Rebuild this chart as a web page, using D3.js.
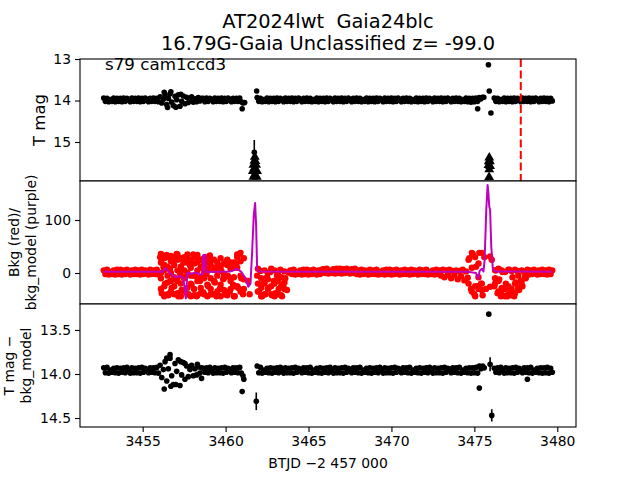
<!DOCTYPE html>
<html>
<head>
<meta charset="utf-8">
<script src="https://cdn.jsdelivr.net/npm/d3@7"></script>
<style>
body { margin: 0; background: #fff; }
svg { font-family: "DejaVu Sans", sans-serif; }
</style>
</head>
<body>
<svg id="chart" width="640" height="480"></svg>
<script>
// ---- data ----
const titleLines = ["AT2024lwt  Gaia24blc", "16.79G-Gaia Unclassified z= -99.0"];
const sectorLabel = "s79 cam1ccd3";
const xTicks = [3455, 3460, 3465, 3470, 3475, 3480];
const y1Ticks = [13, 14, 15];
const y2Ticks = [0, 100];
const y3Ticks = [13.5, 14.0, 14.5];
const refEpoch = 3477.8; // red dashed marker

// BTJD of each cadence
const btjd = [
  3452.65,3452.75,3452.85,3452.95,3453.05,3453.15,3453.25,3453.35,3453.45,3453.55,
  3453.65,3453.75,3453.85,3453.95,3454.05,3454.15,3454.25,3454.35,3454.45,3454.55,
  3454.65,3454.75,3454.85,3454.95,3455.05,3455.15,3455.25,3455.35,3455.45,3455.55,
  3455.65,3455.75,3455.85,3455.95,3456.05,3456.15,3456.25,3456.35,3456.45,3456.55,
  3456.65,3456.75,3456.85,3456.95,3457.05,3457.15,3457.25,3457.35,3457.45,3457.55,
  3457.65,3457.75,3457.85,3457.95,3458.05,3458.15,3458.25,3458.35,3458.45,3458.55,
  3458.65,3458.75,3458.85,3458.95,3459.05,3459.15,3459.25,3459.35,3459.45,3459.55,
  3459.65,3459.75,3459.85,3459.95,3460.05,3460.15,3460.25,3460.35,3460.45,3460.55,
  3460.65,3460.75,3460.85,3460.95,3461.05,
  3461.9,3462.0,3462.1,3462.2,3462.3,3462.4,3462.5,3462.6,3462.7,3462.8,
  3462.9,3463.0,3463.1,3463.2,3463.3,3463.4,3463.5,3463.6,3463.7,3463.8,
  3463.9,3464.0,3464.1,3464.2,3464.3,3464.4,3464.5,3464.6,3464.7,3464.8,
  3464.9,3465.0,3465.1,3465.2,3465.3,3465.4,3465.5,3465.6,3465.7,3465.8,
  3465.9,3466.0,3466.1,3466.2,3466.3,3466.4,3466.5,3466.6,3466.7,3466.8,
  3466.9,3467.0,3467.1,3467.2,3467.3,3467.4,3467.5,3467.6,3467.7,3467.8,
  3467.9,3468.0,3468.1,3468.2,3468.3,3468.4,3468.5,3468.6,3468.7,3468.8,
  3468.9,3469.0,3469.1,3469.2,3469.3,3469.4,3469.5,3469.6,3469.7,3469.8,
  3469.9,3470.0,3470.1,3470.2,3470.3,3470.4,3470.5,3470.6,3470.7,3470.8,
  3470.9,3471.0,3471.1,3471.2,3471.3,3471.4,3471.5,3471.6,3471.7,3471.8,
  3471.9,3472.0,3472.1,3472.2,3472.3,3472.4,3472.5,3472.6,3472.7,3472.8,
  3472.9,3473.0,3473.1,3473.2,3473.3,3473.4,3473.5,3473.6,3473.7,3473.8,
  3473.9,3474.0,3474.1,3474.2,3474.3,3474.4,3474.5,3474.6,3474.7,3474.8,
  3474.9,3475.0,3475.1,3475.2,3475.3,3475.4,3475.5,
  3476.2,3476.3,3476.4,3476.5,3476.6,3476.7,3476.8,3476.9,3477.0,3477.1,
  3477.2,3477.3,3477.4,3477.5,3477.6,3477.7,3477.8,3477.9,3478.0,3478.1,
  3478.2,3478.3,3478.4,3478.5,3478.6,3478.7,3478.8,3478.9,3479.0,3479.1,
  3479.2,3479.3,3479.4,3479.5,3479.6,3479.7
];

// T mag
const tmag = [
  13.94,14.02,13.95,14.03,13.98,14.02,13.94,14.03,13.95,14.02,
  13.95,14.03,13.94,14.02,13.95,13.98,14.03,13.94,14.02,13.95,
  14.02,13.94,14.03,13.95,14.02,13.94,13.98,14.03,13.95,14.02,
  13.94,14.02,13.95,14.03,13.91,14.06,13.97,13.87,14.10,13.95,
  13.84,14.04,14.12,13.90,13.98,13.86,14.14,14.02,13.89,14.08,
  13.92,14.05,13.97,13.91,14.04,13.96,14.03,13.93,14.01,13.95,
  13.95,14.03,13.94,14.02,13.95,13.98,14.03,13.94,14.02,13.95,
  14.02,13.94,14.03,13.95,14.02,13.94,13.98,14.03,13.95,14.02,
  13.95,14.02,13.94,14.03,14.06,
  13.93,14.02,13.95,14.03,13.98,14.02,13.94,14.03,13.95,14.02,
  13.95,14.03,13.94,14.02,13.95,13.98,14.03,13.94,14.02,13.95,
  14.02,13.94,14.03,13.95,14.02,13.94,13.98,14.03,13.95,14.02,
  13.94,14.02,13.95,14.03,13.98,14.02,13.94,14.03,13.95,14.02,
  13.95,14.03,13.94,14.02,13.95,13.98,14.03,13.94,14.02,13.95,
  14.02,13.94,14.03,13.95,14.02,13.94,13.98,14.03,13.95,14.02,
  13.94,14.02,13.95,14.03,13.98,14.02,13.94,14.03,13.95,14.02,
  13.95,14.03,13.94,14.02,13.95,13.98,14.03,13.94,14.02,13.95,
  14.02,13.94,14.03,13.95,14.02,13.94,13.98,14.03,13.95,14.02,
  13.94,14.02,13.95,14.03,13.98,14.02,13.94,14.03,13.95,14.02,
  13.95,14.03,13.94,14.02,13.95,13.98,14.03,13.94,14.02,13.95,
  14.02,13.94,14.03,13.95,14.02,13.94,13.98,14.03,13.95,14.02,
  13.94,14.02,13.95,14.03,13.98,14.02,13.94,14.03,13.95,14.04,
  13.95,14.03,13.94,14.02,13.93,13.96,13.92,
  13.94,14.02,13.95,14.03,13.98,14.02,13.94,14.03,13.95,14.02,
  13.95,14.03,13.94,14.02,13.95,13.98,14.03,13.94,14.02,13.95,
  14.02,13.94,14.03,13.95,14.02,13.94,13.98,14.03,13.95,14.02,
  13.94,14.02,13.95,14.03,13.95,14.01
];
const tmagOutT = [3456.3,3456.5,3456.7,3457.0,3457.3,3461.0,3461.15,3461.87,3475.2,3475.57,3475.85,3475.9,3476.0];
const tmagOutV = [13.80,14.17,13.79,14.16,13.85,14.20,14.05,13.77,14.20,13.92,13.14,13.77,14.30];
// faint epochs (upper limits)
const limT = [3461.76,3461.74,3461.8,3461.68,3461.84,3461.74,3461.64,3461.9,3461.77,3461.68,3461.88,
              3475.9,3475.87,3475.94,3475.85,3475.95,3475.9,3475.89];
const limV = [15.36,15.45,15.46,15.55,15.55,15.63,15.7,15.7,15.78,15.84,15.84,
              15.38,15.47,15.47,15.56,15.58,15.66,15.85];
const errT = [3461.73];
const errV = [15.25];
const errE = [0.3];

// background flux (red)
const bkg = [
  5,-2,6,-3,2,-2,5,-3,6,-2,
  6,-3,5,-2,6,2,-3,5,-2,6,
  -2,5,-3,6,-2,5,2,-3,6,-2,
  5,-2,6,-3,30,-38,12,-20,34,-42,
  8,-28,25,-12,36,-44,0,-32,20,-8,
  30,-40,15,-22,35,-5,-44,24,-15,10,
  -36,28,-2,-25,33,-40,6,-18,-44,15,
  -30,4,-12,-40,22,-6,-35,10,-22,-44,
  18,-28,35,-10,-40,
  -5,-35,4,-44,-18,-40,-8,-28,2,-42,
  -15,-38,-5,-30,6,-44,-20,-10,-32,1,
  5,-2,6,-3,2,-2,5,-3,6,-2,
  6,-3,5,-2,6,2,-3,5,-2,6,
  7,0,8,-1,4,0,7,-1,8,0,
  8,-1,7,0,8,4,-1,7,0,8,
  -2,5,-3,6,-2,5,2,-3,6,-2,
  5,-2,6,-3,2,-2,5,-3,6,-2,
  6,-3,5,-2,6,2,-3,5,-2,6,
  -2,5,-3,6,-2,5,2,-3,6,-2,
  5,-2,6,-3,2,-2,5,-3,6,-2,
  5,-5,6,-8,5,-3,6,-10,4,-4,
  5,-12,4,-6,6,-14,3,-9,28,-30,
  36,-40,12,-25,38,-20,-42,
  -25,5,-38,-12,-44,2,-30,-20,-44,6,
  -35,-8,-44,-18,4,-32,-15,-25,2,-10,
  6,-3,5,-2,6,2,-3,5,-2,6,
  -2,5,-3,6,-2,5
];
const bkgScatT = [
  3456.1,3456.3,3456.5,3456.7,3456.9,3457.1,3457.3,3457.5,3457.7,3457.9,
  3458.1,3458.3,3458.5,3458.7,3458.9,3459.1,
  3459.3,3459.5,3459.7,3459.9,3460.1,3460.3,3460.5,3460.7,3460.9,3461.1,
  3461.35,3461.45,
  3461.95,3462.15,3462.35,3462.55,3462.75,3462.95,3463.15,3463.35,3463.55,
  3474.65,3474.85,3475.05,3475.25,3475.45,3475.6,3475.7,3475.95,3476.05,
  3476.25,3476.45,3476.65,3476.85,3477.05,3477.25,3477.45,3477.65,3477.85,3478.05
];
const bkgScatV = [
  [20,-10,-30,36,0],[5,-25,28,-44,15],[30,-5,-40,12,-18],[22,-15,-35,0,32],[15,-25,30,-8,-40],
  [25,-38,-15,35,5],[12,-20,-44,28,-5],[30,-10,-35,5,20],[20,-28,35,-40,0],[10,-20,25,-44,-5],
  [18,-5,-30,30,-42],[34,-15,-42,5,20],[12,-28,25,-38,-8],[28,-10,-40,0,15],[20,-22,8,-44,30],[15,-30,-10,25,-40],
  [10,-15,-40,25],[-5,-35,20,5],[12,-22,-44,28],[18,-10,-32,-2],[-5,-42,15,25],[8,-30,-15,20],
  [20,-8,-44,-25],[30,-25,10,35],[-5,-35,22,38],[28,-12,-30],
  [-15],[-40],
  [-20,8,-35],[-10,-28,-44],[-20,5,-40],[-30,0,-12],[-25,8,-40],[-44,-20,5],[-15,-40,0],[-25,-8,-42],[-30,3,-18],
  [25,-20],[38,-35,10],[30,-25,-44],[18,-8,-30],[38,-20,-32],[30],[-30],[31,-26],[25],
  [-10,5,-20],[-15,8,-35],[-28,5,-40],[-30,2,-44],[-25,6,-40],[-30,4,-42],[-20,6,-38],[-28,-5,-30],[-22,5,-15],[-8]
];

// background model (purple)
const modelT = [
  3452.65,3456.2,3456.4,3456.6,3456.8,3457.0,3457.2,3457.45,3457.6,3457.7,3457.9,3458.2,3458.5,
  3458.62,3458.66,3458.78,3458.82,3459.5,3460.3,3460.7,3460.95,3461.2,3461.37,3461.5,
  3461.6,3461.7,3461.78,3461.84,3461.9,3461.98,3465.0,3470.0,3474.6,3475.1,3475.22,
  3475.32,3475.45,3475.55,3475.62,3475.72,3475.8,3475.85,3475.9,3475.95,3476.02,3476.12,
  3476.3,3479.7
];
const modelV = [
  2.5,2.5,9,1,-4,-8,-6,-9,-48,1,-2,1,-3,
  -2,34,34,2,2.5,3,7.5,2,-10,-26,-20,
  40,110,132,90,10,3,2.5,2.5,2.5,0,-11,
  4,8,3,24,120,166,150,125,119,50,6,
  3,2.5
];

// T mag minus bkg_model
const tmagSub = [
  13.93,13.985,13.925,13.99,13.955,13.98,13.935,13.985,13.93,13.99,
  13.935,13.98,13.93,13.985,13.925,13.955,13.99,13.93,13.985,13.935,
  13.985,13.93,13.99,13.925,13.98,13.935,13.955,13.985,13.93,13.98,
  13.93,13.985,13.925,13.99,13.90,14.04,13.95,13.86,14.08,13.94,
  13.82,14.02,14.12,13.88,13.97,13.84,14.13,14.01,13.87,14.06,
  13.91,14.03,13.95,13.90,14.02,13.94,14.01,13.92,13.99,13.93,
  13.935,13.98,13.93,13.985,13.925,13.955,13.99,13.93,13.985,13.935,
  13.985,13.93,13.99,13.925,13.98,13.935,13.955,13.985,13.93,13.98,
  13.93,13.985,13.925,13.99,14.02,
  13.91,13.985,13.925,13.99,13.955,13.98,13.935,13.985,13.93,13.99,
  13.935,13.98,13.93,13.985,13.925,13.955,13.99,13.93,13.985,13.935,
  13.985,13.93,13.99,13.925,13.98,13.935,13.955,13.985,13.93,13.98,
  13.93,13.985,13.925,13.99,13.955,13.98,13.935,13.985,13.93,13.99,
  13.935,13.98,13.93,13.985,13.925,13.955,13.99,13.93,13.985,13.935,
  13.985,13.93,13.99,13.925,13.98,13.935,13.955,13.985,13.93,13.98,
  13.93,13.985,13.925,13.99,13.955,13.98,13.935,13.985,13.93,13.99,
  13.935,13.98,13.93,13.985,13.925,13.955,13.99,13.93,13.985,13.935,
  13.985,13.93,13.99,13.925,13.98,13.935,13.955,13.985,13.93,13.98,
  13.93,13.985,13.925,13.99,13.955,13.98,13.935,13.985,13.93,13.99,
  13.935,13.98,13.93,13.985,13.925,13.955,13.99,13.93,13.985,13.935,
  13.985,13.93,13.99,13.925,13.98,13.935,13.955,13.985,13.93,13.98,
  13.93,13.985,13.925,13.99,13.955,13.98,13.935,13.985,13.93,13.99,
  13.93,13.985,13.925,13.99,13.91,13.94,13.91,
  13.935,13.98,13.93,13.985,13.925,13.955,13.99,13.93,13.985,13.935,
  13.985,13.93,13.99,13.925,13.98,13.935,13.955,13.985,13.93,13.98,
  13.93,13.985,13.925,13.99,13.955,13.98,13.935,13.985,13.93,13.99,
  13.93,13.985,13.925,13.99,13.935,13.98
];
const subOutT = [3456.3,3456.45,3456.65,3456.7,3457.0,3457.3,3457.55,3458.3,3458.55,3461.0,3461.1,3475.3,3475.6,3478.2];
const subOutV = [14.17,13.82,13.78,14.14,14.12,13.86,13.88,13.89,14.05,14.20,14.06,14.16,13.93,14.06];
const subErrT = [3461.85,3475.87,3475.95,3476.05];
const subErrV = [14.31,13.32,13.89,14.47];
const subErrE = [0.1,0.012,0.08,0.07];

// ---- layout ----
const left = 80, right = 576;
const svg = d3.select("#chart");
svg.append("rect").attr("width", 640).attr("height", 480).attr("fill", "#fff");

const x = d3.scaleLinear().domain([3451.22, 3481.13]).range([left, right]);
const y1 = d3.scaleLinear().domain([13, 15.94]).range([59, 181]);
const y2 = d3.scaleLinear().domain([173.6, -58.5]).range([181, 304]);
const y3 = d3.scaleLinear().domain([13.205, 14.602]).range([304, 427]);

function panel(id, y) {
    const [top, bottom] = y.range();
    svg.append("clipPath").attr("id", id)
        .append("rect").attr("x", left).attr("y", top)
        .attr("width", right - left).attr("height", bottom - top);
    const g = svg.append("g");
    g.append("rect").attr("x", left).attr("y", top)
        .attr("width", right - left).attr("height", bottom - top)
        .attr("fill", "#fff");
    const plot = g.append("g").attr("clip-path", "url(#" + id + ")");
    return {g: g, plot: plot, top: top, bottom: bottom};
}

function frame(p) {
    p.g.append("rect").attr("x", left).attr("y", p.top)
        .attr("width", right - left).attr("height", p.bottom - p.top)
        .attr("fill", "none").attr("stroke", "#000").attr("stroke-width", 1.1);
}

function yAxis(p, y, ticks, fmt) {
    const ax = p.g.append("g")
        .attr("transform", "translate(" + left + ",0)")
        .call(d3.axisLeft(y).tickValues(ticks).tickFormat(fmt).tickSize(5).tickPadding(4));
    ax.select(".domain").remove();
    ax.selectAll("line").attr("stroke-width", 1.1);
    ax.selectAll("text").attr("font-size", 13.9).attr("font-family", "DejaVu Sans").attr("fill", "#000");
}

function dots(plot, ts, vs, y, color, r) {
    plot.append("g").selectAll("circle")
        .data(ts.map((t, i) => [t, vs[i]]))
        .enter().append("circle")
        .attr("cx", d => x(d[0])).attr("cy", d => y(d[1]))
        .attr("r", r).attr("fill", color);
}

function errbars(plot, ts, vs, es, y) {
    const g = plot.append("g");
    ts.forEach((t, i) => {
        g.append("line")
            .attr("x1", x(t)).attr("x2", x(t))
            .attr("y1", y(vs[i] - es[i])).attr("y2", y(vs[i] + es[i]))
            .attr("stroke", "#000").attr("stroke-width", 1.6);
    });
    dots(plot, ts, vs, y, "#000", 2.8);
}

function ylabel(lines, cx, cy, size) {
    const gap = size * 1.2;
    lines.forEach((s, i) => {
        const xx = cx - (lines.length - 1) * gap / 2 + i * gap;
        svg.append("text")
            .attr("transform", "translate(" + xx + "," + cy + ") rotate(-90)")
            .attr("text-anchor", "middle").attr("dy", "0.35em")
            .attr("font-size", size).text(s);
    });
}

// panel 1: T mag
const p1 = panel("c1", y1);
dots(p1.plot, btjd, tmag, y1, "#000", 2.8);
dots(p1.plot, tmagOutT, tmagOutV, y1, "#000", 2.8);
errbars(p1.plot, errT, errV, errE, y1);
p1.plot.append("g").selectAll("path")
    .data(limT.map((t, i) => [t, limV[i]]))
    .enter().append("path")
    .attr("d", d3.symbol().type(d3.symbolTriangle).size(42))
    .attr("transform", d => "translate(" + x(d[0]) + "," + y1(d[1]) + ")")
    .attr("fill", "#000");
p1.plot.append("line")
    .attr("x1", x(refEpoch)).attr("x2", x(refEpoch))
    .attr("y1", p1.top).attr("y2", p1.bottom)
    .attr("stroke", "#f00").attr("stroke-width", 2)
    .attr("stroke-dasharray", "8,3.5");
p1.g.append("text").attr("x", 105).attr("y", 70)
    .attr("font-size", 16.7).text(sectorLabel);
frame(p1);
yAxis(p1, y1, y1Ticks, d3.format("d"));

// panel 2: background and model
const p2 = panel("c2", y2);
dots(p2.plot, btjd, bkg, y2, "#f00", 3.2);
const scat = [];
bkgScatT.forEach((t, i) => bkgScatV[i].forEach(v => scat.push([t, v])));
dots(p2.plot, scat.map(d => d[0]), scat.map(d => d[1]), y2, "#f00", 3.2);
p2.plot.append("path")
    .datum(modelT.map((t, i) => [t, modelV[i]]))
    .attr("d", d3.line().x(d => x(d[0])).y(d => y2(d[1])))
    .attr("fill", "none").attr("stroke", "#bf00bf").attr("stroke-width", 2)
    .attr("stroke-linejoin", "round");
frame(p2);
yAxis(p2, y2, y2Ticks, d3.format("d"));

// panel 3: T mag - bkg_model
const p3 = panel("c3", y3);
dots(p3.plot, btjd, tmagSub, y3, "#000", 2.8);
dots(p3.plot, subOutT, subOutV, y3, "#000", 2.8);
errbars(p3.plot, subErrT, subErrV, subErrE, y3);
frame(p3);
yAxis(p3, y3, y3Ticks, d3.format(".1f"));

const xa = svg.append("g")
    .attr("transform", "translate(0," + p3.bottom + ")")
    .call(d3.axisBottom(x).tickValues(xTicks).tickFormat(d3.format("d")).tickSize(5).tickPadding(4));
xa.select(".domain").remove();
xa.selectAll("line").attr("stroke-width", 1.1);
xa.selectAll("text").attr("font-size", 13.9).attr("font-family", "DejaVu Sans").attr("fill", "#000");

// labels
ylabel(["T mag"], 39, 120, 16.5);
ylabel(["Bkg (red)/", "bkg_model (purple)"], 22.5, 242.5, 13.9);
ylabel(["T mag \u2212", "bkg_model"], 17.5, 365.5, 13.9);
svg.append("text").attr("x", 328).attr("y", 468).attr("text-anchor", "middle")
    .attr("font-size", 13.9).text("BTJD \u22122 457 000");
titleLines.forEach((s, i) => {
    svg.append("text").attr("x", 328).attr("y", 28 + i * 22)
        .attr("text-anchor", "middle").attr("font-size", 19.4)
        .style("white-space", "pre").text(s);
});
</script>
</body>
</html>
